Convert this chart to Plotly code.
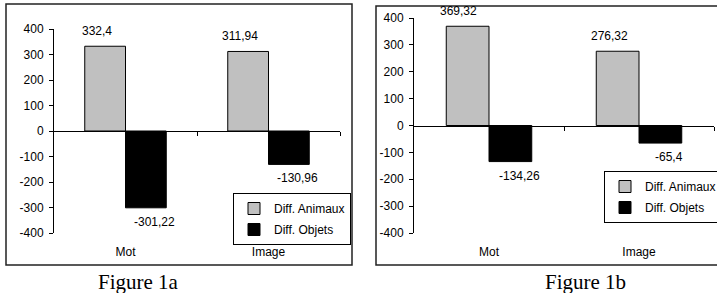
import plotly.graph_objects as go

categories = ["Mot", "Image"]
series_names = ["Diff. Animaux", "Diff. Objets"]
fig1a_animaux = [332.4, 311.94]
fig1a_objets = [-301.22, -130.96]
fig1b_animaux = [369.32, 276.32]
fig1b_objets = [-134.26, -65.4]
ytick_vals = [-400, -300, -200, -100, 0, 100, 200, 300, 400]
ytick_text = ["-400", "-300", "-200", "-100", "0", "100", "200", "300", "400"]
captions = ["Figure 1a", "Figure 1b"]

W, H = 717, 293
GRAY = "#C0C0C0"
FONT = "Liberation Sans, Arial, sans-serif"
FS = 12

def px(x):
    return x / W

def py(y):
    return 1 - y / H

fig = go.Figure()

panels = [
    dict(xa="x", ya="y", xz="x3", an=fig1a_animaux, ob=fig1a_objets, legend="legend",
         xdom=[px(54), px(340)], ydom=[py(233), py(29)]),
    dict(xa="x2", ya="y2", xz="x4", an=fig1b_animaux, ob=fig1b_objets, legend="legend2",
         xdom=[px(414), px(714)], ydom=[py(233), py(18)]),
]

annotations = []
for p in panels:
    fig.add_trace(go.Bar(x=categories, y=p["an"], name=series_names[0], xaxis=p["xa"], yaxis=p["ya"],
                         marker=dict(color=GRAY, line=dict(color="black", width=1)),
                         legend=p["legend"], legendgroup=p["legend"] + "a"))
    fig.add_trace(go.Bar(x=categories, y=p["ob"], name=series_names[1], xaxis=p["xa"], yaxis=p["ya"],
                         marker=dict(color="black", line=dict(color="black", width=1)),
                         legend=p["legend"], legendgroup=p["legend"] + "b"))
    fig.add_trace(go.Scatter(x=[None], y=[None], xaxis=p["xz"], yaxis=p["ya"], showlegend=False,
                             hoverinfo="skip"))
    for vals, off in ((p["an"], -0.2), (p["ob"], 0.2)):
        for i, v in enumerate(vals):
            annotations.append(dict(
                x=i + off, y=v, xref=p["xa"], yref=p["ya"],
                text=f"{v:g}".replace(".", ","), showarrow=False,
                yshift=15 if v > 0 else -14, xanchor="center", yanchor="middle",
                font=dict(family=FONT, size=FS, color="black")))

layout = dict(
    width=W, height=H, autosize=False,
    margin=dict(l=0, r=0, t=0, b=0, autoexpand=False),
    paper_bgcolor="white", plot_bgcolor="white",
    barmode="group", bargap=0.43, bargroupgap=0,
    font=dict(family=FONT, size=FS, color="black"),
    showlegend=True,
)

for p in panels:
    xk = "xaxis" if p["xa"] == "x" else "xaxis2"
    yk = "yaxis" if p["ya"] == "y" else "yaxis2"
    zk = "xaxis3" if p["xz"] == "x3" else "xaxis4"
    layout[xk] = dict(domain=p["xdom"], anchor=p["ya"], type="category", range=[-0.5, 1.5],
                      showline=False, ticks="", showgrid=False, zeroline=False,
                      ticklabelstandoff=10, tickfont=dict(family=FONT, size=FS))
    layout[yk] = dict(domain=p["ydom"], anchor=p["xa"], range=[-400, 400],
                      tickvals=ytick_vals, ticktext=ytick_text,
                      showline=True, linecolor="black", linewidth=1,
                      ticks="outside", ticklen=4, tickcolor="black",
                      showgrid=False, zeroline=False, ticklabelstandoff=3,
                      tickfont=dict(family=FONT, size=FS))
    zpos = (p["ydom"][0] + p["ydom"][1]) / 2
    layout[zk] = dict(overlaying=p["xa"], anchor="free", position=zpos, range=[-0.5, 1.5],
                      tickvals=[0.5, 1.5], showticklabels=False, ticks="outside", ticklen=4,
                      tickcolor="black", showline=True, linecolor="black", linewidth=1,
                      showgrid=False, zeroline=False)

layout["legend"] = dict(x=px(351), xanchor="right", y=py(193), yanchor="top",
                        bgcolor="white", bordercolor="black", borderwidth=1,
                        font=dict(family=FONT, size=FS), tracegroupgap=2, itemwidth=30)
layout["legend2"] = dict(x=px(604), xanchor="left", y=py(171), yanchor="top",
                         bgcolor="white", bordercolor="black", borderwidth=1,
                         font=dict(family=FONT, size=FS), tracegroupgap=2, itemwidth=30)

shapes = [
    dict(type="rect", xref="paper", yref="paper", x0=px(6), x1=px(352), y0=py(265), y1=py(4),
         line=dict(color="#222", width=1.5), layer="below"),
    dict(type="rect", xref="paper", yref="paper", x0=px(376), x1=px(740), y0=py(265), y1=py(6),
         line=dict(color="#222", width=1.5), layer="below"),
]
SERIF = "Liberation Serif, Times New Roman, serif"
annotations.append(dict(x=px(138), y=py(282), xref="paper", yref="paper", text=captions[0],
                        xanchor="center", yanchor="middle", showarrow=False,
                        font=dict(family=SERIF, size=21, color="black")))
annotations.append(dict(x=px(585), y=py(282), xref="paper", yref="paper", text=captions[1],
                        xanchor="center", yanchor="middle", showarrow=False,
                        font=dict(family=SERIF, size=21, color="black")))
layout["shapes"] = shapes
layout["annotations"] = annotations

fig.update_layout(**layout)
fig.write_html("out.html", config={"displayModeBar": False},
               post_script="document.body.style.margin='0';document.body.style.overflow='hidden';")
